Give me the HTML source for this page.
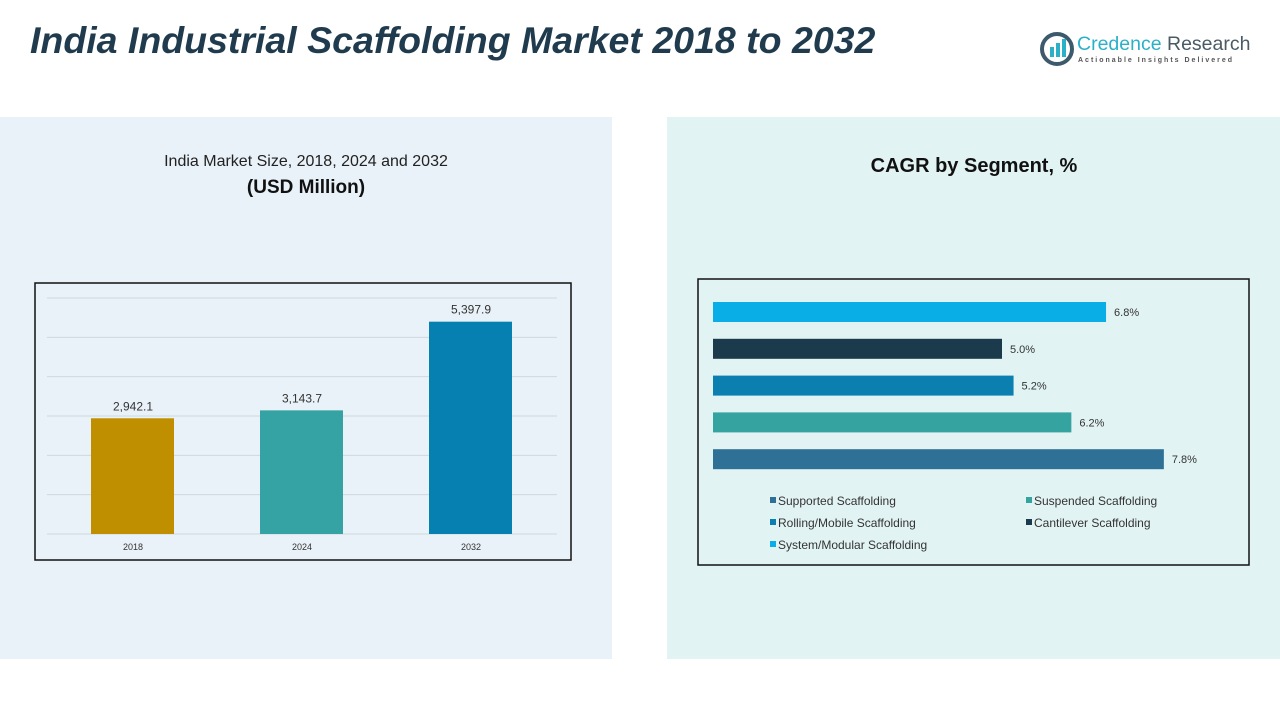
<!DOCTYPE html>
<html><head><meta charset="utf-8"><style>
body{margin:0;width:1280px;height:720px;background:#fff;font-family:"Liberation Sans",sans-serif;position:relative;overflow:hidden}
.abs{position:absolute}
</style></head><body>
<div class="abs" style="left:30px;top:19px;font-size:37.5px;font-weight:bold;font-style:italic;color:#1f3b4d;white-space:nowrap">India Industrial Scaffolding Market 2018 to 2032</div>
<div class="abs" style="left:1040px;top:30px;width:215px;height:40px">
 <svg width="34" height="34" style="position:absolute;left:0;top:2px"><circle cx="17" cy="17" r="15" fill="none" stroke="#3d5a6c" stroke-width="4"/><rect x="10" y="15" width="4" height="10" fill="#2bb0c8"/><rect x="16" y="11" width="4" height="14" fill="#2bb0c8"/><rect x="22" y="7" width="4" height="18" fill="#2bb0c8"/></svg>
 <div class="abs" style="left:37px;top:3px;font-size:19.5px;white-space:nowrap"><span style="color:#2bb0c8">Credence</span> <span style="color:#4a5b66">Research</span></div>
 <div class="abs" style="left:38px;top:27px;font-size:7px;letter-spacing:2px;color:#555;white-space:nowrap;font-weight:bold">Actionable Insights Delivered</div>
</div>
<div class="abs" style="left:0;top:117px;width:612px;height:542px;background:#e9f2f8"></div>
<div class="abs" style="left:667px;top:117px;width:613px;height:542px;background:#e2f3f4"></div>
<div class="abs" style="left:0;top:153px;width:612px;text-align:center;font-size:16px;color:#222">India Market Size, 2018, 2024 and 2032</div>
<div class="abs" style="left:0;top:177px;width:612px;text-align:center;font-size:19px;font-weight:bold;color:#111">(USD Million)</div>
<div class="abs" style="left:674px;top:155px;width:600px;text-align:center;font-size:20px;font-weight:bold;color:#111">CAGR by Segment, %</div>
<svg class="abs" style="left:0;top:0" width="1280" height="720" id="svg">
<rect x="35" y="283" width="536" height="277" fill="none" stroke="#111" stroke-width="1.5"/>
<rect x="698" y="279" width="551" height="286" fill="none" stroke="#111" stroke-width="1.5"/>
<g id="left"></g><g id="right"></g>
</svg>
<script>
const years=["2018","2024","2032"];
const sizes=[2942.1,3143.7,5397.9];
const sizeLabels=["2,942.1","3,143.7","5,397.9"];
const segments=["System/Modular Scaffolding","Cantilever Scaffolding","Rolling/Mobile Scaffolding","Suspended Scaffolding","Supported Scaffolding"];
const cagr=[6.8,5.0,5.2,6.2,7.8];
const gridTicks=[0,1000,2000,3000,4000,5000,6000];
const NS="http://www.w3.org/2000/svg";
function mk(t,a,p){const e=document.createElementNS(NS,t);for(const k in a)e.setAttribute(k,a[k]);p.appendChild(e);return e;}
const L=document.getElementById('left'),R=document.getElementById('right');
const y=v=>534-v*(236/6000);
const bx=i=>49+i*169;
gridTicks.forEach(t=>{const g=mk('line',{x1:47,x2:557,y1:y(t),y2:y(t),stroke:'#cfd8dd','stroke-width':1},L);

});
const bc=["#c08f00","#35a3a3","#0580b0"];
sizes.forEach((v,i)=>{const cx=bx(i)+84;
const r=mk('rect',{x:cx-42,y:y(v),width:83,height:534-y(v),fill:bc[i]},L);


const t=mk('text',{x:cx,y:y(v)-8,'text-anchor':'middle','font-size':12,fill:'#333'},L);t.textContent=sizeLabels[i];


const a=mk('text',{x:cx,y:550,'text-anchor':'middle','font-size':9,fill:'#333'},L);a.textContent=years[i];

});
const sc=["#0aaee6","#1b3a4b","#0a7fb0","#35a3a0","#2e7096"];
const xs=v=>713+v*57.8;
cagr.forEach((v,i)=>{const cy=312+i*36.8;
const r=mk('rect',{x:713,y:cy-10,width:xs(v)-713,height:20,fill:sc[i]},R);


const t=mk('text',{x:xs(v)+8,y:cy+4,'font-size':11,fill:'#333'},R);t.textContent=v.toFixed(1)+'%';

});
const leg=[[4,770,501],[3,1026,501],[2,770,523],[1,1026,523],[0,770,545]];
leg.forEach(([i,x,yy])=>{const g=mk('g',{},R);


mk('rect',{x:x,y:yy-4,width:6,height:6,fill:sc[i]},g);
const t=mk('text',{x:x+8,y:yy+4,'font-size':12,fill:'#333'},g);t.textContent=segments[i];});
</script>
</body></html>
